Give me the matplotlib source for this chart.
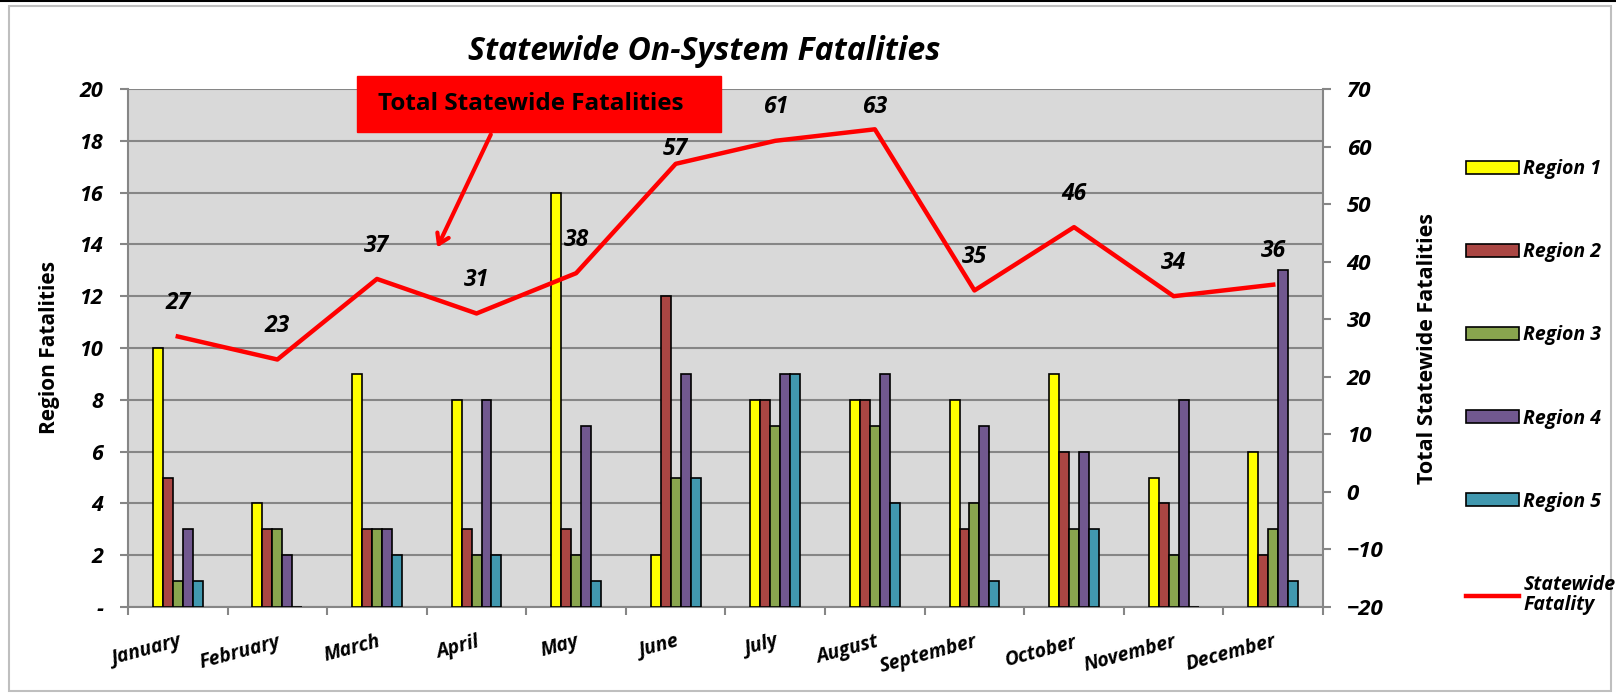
import numpy as np
import matplotlib.pyplot as plt
from matplotlib.patches import Rectangle, Patch
from matplotlib.lines import Line2D

# Data
months = ['January', 'February', 'March', 'April', 'May', 'June', 'July',
          'August', 'September', 'October', 'November', 'December']
region1 = [10, 4, 9, 8, 16, 2, 8, 8, 8, 9, 5, 6]
region2 = [5, 3, 3, 3, 3, 12, 8, 8, 3, 6, 4, 2]
region3 = [1, 3, 3, 2, 2, 5, 7, 7, 4, 3, 2, 3]
region4 = [3, 2, 3, 8, 7, 9, 9, 9, 7, 6, 8, 13]
region5 = [1, 0, 2, 2, 1, 5, 9, 4, 1, 3, 0, 1]
statewide = [27, 23, 37, 31, 38, 57, 61, 63, 35, 46, 34, 36]

region_names = ['Region 1', 'Region 2', 'Region 3', 'Region 4', 'Region 5']
region_colors = ['#FFFF00', '#AA4643', '#89A54E', '#71588F', '#4198AF']

# vertical offset (points) of each total label above its point
label_dy = [24, 24, 24, 24, 24, 11, 24, 16, 24, 24, 24, 24]

FONT = 'Open Sans'
W, H = 1616, 696

fig = plt.figure(figsize=(W / 100, H / 100), dpi=100)
ax = fig.add_axes([128 / W, 1 - 607 / H, (1323 - 128) / W, (607 - 89) / H])
ax.set_facecolor('#D9D9D9')

# outer chart frame
fig.patches.append(Rectangle((9 / W, 5 / H), (W - 14) / W, (H - 11) / H,
                             transform=fig.transFigure, fill=False,
                             edgecolor='#BFBFBF', lw=1.5))
fig.add_artist(Line2D([0, 1], [1 - 1 / H, 1 - 1 / H], color='black', lw=1.5))

x = np.arange(len(months))
bw = 0.1
for i, (vals, c) in enumerate(zip([region1, region2, region3, region4, region5],
                                  region_colors)):
    ax.bar(x + (i - 2) * bw, vals, width=bw, color=c, edgecolor='black',
           lw=1.2, zorder=3)

ax.set_xlim(-0.5, len(months) - 0.5)
ax.set_ylim(0, 20)
ax.set_yticks(np.arange(0, 21, 2))
ax.set_yticklabels(['-'] + [str(v) for v in range(2, 21, 2)])
ax.yaxis.grid(True, color='#868686', lw=1.5, zorder=0)
ax.set_axisbelow(True)
for s in ax.spines.values():
    s.set_color('#868686')
    s.set_linewidth(1.5)
ax.spines['top'].set_visible(False)

ax.set_xticks(x)
ax.set_xticklabels(months, rotation=15, ha='right', rotation_mode='anchor',
                   fontsize=14, fontweight='bold', fontstyle='italic',
                   family=FONT)
ax.set_xticks(np.arange(-0.5, len(months)), minor=True)
ax.tick_params(axis='x', which='major', length=0, pad=18)
ax.tick_params(axis='x', which='minor', length=6, color='#868686', width=1.5)
ax.tick_params(axis='y', length=6, color='#868686', width=1.5, pad=12)
for t in ax.get_yticklabels():
    t.set_fontsize(15.5)
    t.set_fontweight('bold')
    t.set_fontstyle('italic')
    t.set_family(FONT)

ax.set_ylabel('Region Fatalities', fontsize=15, fontweight='bold',
              family=FONT, labelpad=14)

# secondary axis with total statewide line
ax2 = ax.twinx()
ax2.plot(x, statewide, color='#FF0000', lw=3.2, zorder=5)
ax2.set_ylim(-20, 70)
ax2.set_yticks(np.arange(-20, 71, 10))
for s in ax2.spines.values():
    s.set_visible(False)
ax2.tick_params(axis='y', length=6, color='#868686', width=1.5, pad=11)
for t in ax2.get_yticklabels():
    t.set_fontsize(16)
    t.set_fontweight('bold')
    t.set_fontstyle('italic')
    t.set_family(FONT)
ax2.set_ylabel('Total Statewide Fatalities', fontsize=15.5, fontweight='bold',
               family=FONT, labelpad=24)

for i, v in enumerate(statewide):
    ax2.annotate(str(v), (x[i], v), xytext=(0, label_dy[i]),
                 textcoords='offset points', ha='center', va='center',
                 fontsize=16.5, fontweight='bold', fontstyle='italic',
                 family=FONT)

fig.text(704 / W, 1 - 52 / H, 'Statewide On-System Fatalities', ha='center',
         va='center', fontsize=23, fontweight='bold', fontstyle='italic',
         family=FONT)

# red callout box with arrow
fig.patches.append(Rectangle((357 / W, 1 - 132 / H), (721 - 357) / W, 56 / H,
                             transform=fig.transFigure, color='#FF0000',
                             zorder=6))
fig.text(378 / W, 1 - 104 / H, 'Total Statewide Fatalities', ha='left',
         va='center', fontsize=17.5, fontweight='bold', family=FONT, zorder=7)
fig.add_artist(plt.Annotation('', xy=(436 / W, 1 - 250 / H),
                              xytext=(492 / W, 1 - 132 / H),
                              xycoords='figure fraction',
                              arrowprops=dict(arrowstyle='->,head_length=0.7,head_width=0.45',
                                              color='#FF0000', lw=3)))

# legend
handles = [Patch(facecolor=c, edgecolor='black', lw=1.2) for c in region_colors]
handles.append(Line2D([], [], color='#FF0000', lw=3.2))
labels = region_names + ['Statewide\nFatality']
leg = fig.legend(handles, labels, loc='upper left',
                 bbox_to_anchor=(1466 / W, 1 - 159 / H), frameon=False,
                 borderpad=0, borderaxespad=0, handlelength=2.7,
                 handleheight=0.65, handletextpad=0.25, labelspacing=3.25,
                 prop=dict(family=FONT, size=14, weight='bold', style='italic'))
for t in leg.get_texts():
    t.set_linespacing(1.0)

fig.savefig('out.png', dpi=100)
